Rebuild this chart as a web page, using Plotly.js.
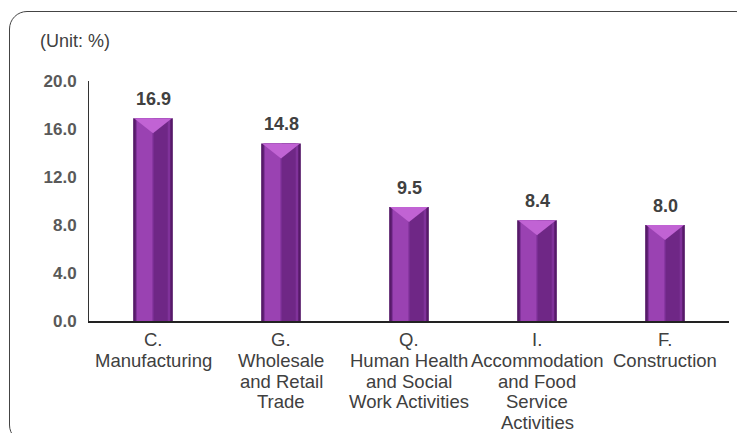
<!DOCTYPE html>
<html>
<head>
<meta charset="utf-8">
<script src="https://cdn.plot.ly/plotly-3.0.1.min.js"></script>
<style>
  html, body { margin: 0; padding: 0; background: #fff; overflow: hidden; }
  #frame { position: absolute; left: 9px; top: 11px; width: 745px; height: 432px;
           border: 1.5px solid #444; border-radius: 18px; box-sizing: border-box; }
  #chart { position: absolute; left: 0; top: 0; width: 737px; height: 433px; }
</style>
</head>
<body>
<div id="frame"></div>
<div id="chart"></div>
<script>
// ---- data ----
const categories = ["C. Manufacturing", "G. Wholesale and Retail Trade",
  "Q. Human Health and Social Work Activities",
  "I. Accommodation and Food Service Activities", "F. Construction"];
const labelLines = [
  ["C.", "Manufacturing"],
  ["G.", "Wholesale", "and Retail", "Trade"],
  ["Q.", "Human Health", "and Social", "Work Activities"],
  ["I.", "Accommodation", "and Food", "Service", "Activities"],
  ["F.", "Construction"]
];
const values = [16.9, 14.8, 9.5, 8.4, 8.0];
const yTicks = [0, 4, 8, 12, 16, 20];
const unitLabel = "(Unit: %)";

// ---- traces (layered bars for a bevelled look) ----
const base = {type: "bar", x: categories, y: values, hoverinfo: "skip", showlegend: false};
const traces = [
  Object.assign({}, base, {width: 0.31, marker: {color: "#561a69"}}),
  Object.assign({}, base, {width: 0.27, marker: {color: "#80329a"}}),
  Object.assign({}, base, {width: 0.12, offset: -0.125, marker: {color: "#9a42b2"}}),
  Object.assign({}, base, {width: 0.11, offset: 0.005, marker: {color: "#6f2786"}})
];

const annotations = [];
const shapes = [];
values.forEach((v, i) => {
  annotations.push({x: categories[i], y: v, xref: "x", yref: "y", text: v.toFixed(1),
    showarrow: false, yanchor: "bottom", yshift: 7,
    font: {family: "Liberation Sans, Arial, sans-serif", size: 18, color: "#404040", weight: "bold"}});
  shapes.push({type: "path", xref: "x", yref: "y", xsizemode: "pixel", ysizemode: "pixel",
    xanchor: categories[i], yanchor: v, path: "M-19,0 L19,0 L0,-15 Z",
    fillcolor: "#c163d4", line: {width: 0}});
  labelLines[i].forEach((line, j) => {
    annotations.push({x: categories[i], y: 0, xref: "x", yref: "y", text: line,
      showarrow: false, yanchor: "top", yshift: -(6 + j * 20.8),
      font: {family: "Liberation Sans, Arial, sans-serif", size: 18.5, color: "#404040"}});
  });
});
annotations.push({xref: "paper", yref: "paper", x: -0.08, y: 1.165, xanchor: "left", yanchor: "middle",
  text: unitLabel, showarrow: false,
  font: {family: "Liberation Sans, Arial, sans-serif", size: 18, color: "#404040"}});

const layout = {
  width: 737, height: 433,
  margin: {l: 89, r: 8, t: 81, b: 112, pad: 0},
  paper_bgcolor: "rgba(0,0,0,0)", plot_bgcolor: "rgba(0,0,0,0)",
  barmode: "overlay",
  showlegend: false,
  xaxis: {type: "category", showticklabels: false, ticks: "", showgrid: false, zeroline: false,
    showline: true, linecolor: "#222", linewidth: 1.5, fixedrange: true},
  yaxis: {range: [0, 20], tickvals: yTicks, tickformat: ".1f", showgrid: false, zeroline: false,
    showline: true, linecolor: "#333", linewidth: 1, ticks: "", ticklabelstandoff: 8,
    tickfont: {family: "Liberation Sans, Arial, sans-serif", size: 17, color: "#595959", weight: "bold"},
    fixedrange: true},
  annotations: annotations,
  shapes: shapes
};

Plotly.newPlot("chart", traces, layout, {displayModeBar: false, staticPlot: true});
</script>
</body>
</html>
